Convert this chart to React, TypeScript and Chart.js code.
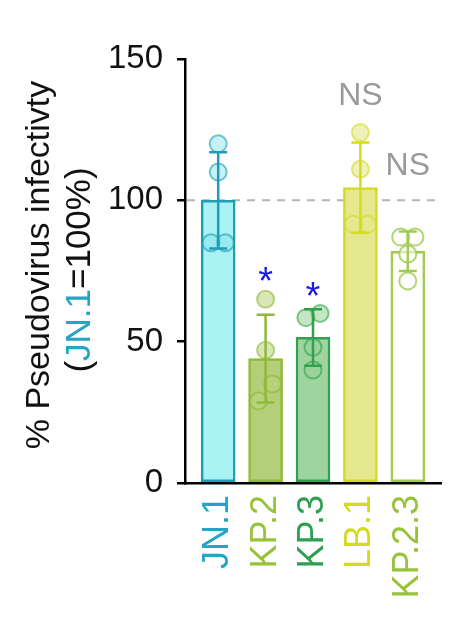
import { useEffect, useRef } from "react";
import { Chart, registerables } from "chart.js";

Chart.register(...registerables);

const variants = ["JN.1", "KP.2", "KP.3", "LB.1", "KP.2.3"];
const means = [100, 44, 51.5, 104.5, 82];
const sds = [17, 15.5, 10, 16, 7];
const replicates = [
  [120, 110, 85, 85],
  [65, 47, 35, 29],
  [60, 58.5, 48, 40],
  [124, 111, 91.5, 91.5],
  [87, 87, 81, 71.5],
];
const yTicks = [0, 50, 100, 150];
const refLevel = 100;
// significance marks: [variant index, y value, text]
const sigMarks: [number, number, string][] = [
  [1, 74.5, "*"],
  [2, 69.5, "*"],
  [3, 137, "NS"],
  [4, 112, "NS"],
];

const barFill = ["#aaf2f4", "#b4cf7a", "#9fd49f", "#e6e890", "#ffffff"];
const barEdge = ["#1f9db4", "#8fb937", "#31a150", "#d3db22", "#a2cc4c"];
const dotFill = [
  "rgba(130,225,235,0.45)",
  "rgba(185,212,125,0.55)",
  "rgba(150,210,150,0.55)",
  "rgba(228,232,140,0.6)",
  "rgba(255,255,255,0.6)",
];
const dotEdge = [
  "rgba(31,157,180,0.6)",
  "rgba(143,185,55,0.6)",
  "rgba(49,161,80,0.6)",
  "rgba(211,219,34,0.6)",
  "rgba(150,200,70,0.75)",
];
const labelColors = ["#27a3c4", "#97c33b", "#2e9f50", "#d2db1f", "#97c33b"];

const FONT = "'Liberation Sans', Arial, sans-serif";

// nudge near-equal replicates sideways so the circles don't sit on each other
function spread(values: number[]) {
  const order = values.map((v, i) => i).sort((a, b) => values[b] - values[a]);
  const dx = values.map(() => 0);
  for (let k = 0; k < order.length - 1; k++) {
    const a = order[k];
    const b = order[k + 1];
    if (dx[a] === 0 && values[a] - values[b] < 7) {
      dx[a] = 0.15;
      dx[b] = -0.15;
      k++;
    }
  }
  return dx;
}

const App = () => {
  const canvasRef = useRef<HTMLCanvasElement>(null);

  useEffect(() => {
    document.body.style.margin = "0";
    if (!canvasRef.current) return;
    const ctx = canvasRef.current.getContext("2d");
    if (!ctx) return;

    const dotSets = replicates.map((vals, i) => {
      const dx = spread(vals);
      return {
        type: "scatter" as const,
        data: vals.map((v, j) => ({ x: i + dx[j], y: v })),
        backgroundColor: dotFill[i],
        borderColor: dotEdge[i],
        borderWidth: 2,
        pointRadius: 8.5,
        order: 1,
      };
    });

    const refLine = {
      id: "refLine",
      beforeDatasetsDraw(chart: any) {
        const { ctx, chartArea, scales } = chart;
        const y = scales.y.getPixelForValue(refLevel);
        ctx.save();
        ctx.strokeStyle = "#b4b4b4";
        ctx.lineWidth = 2;
        ctx.setLineDash([8, 7]);
        ctx.beginPath();
        ctx.moveTo(chartArea.left + 2, y);
        ctx.lineTo(chartArea.right, y);
        ctx.stroke();
        ctx.restore();
      },
    };

    const errorBars = {
      id: "errorBars",
      afterDatasetsDraw(chart: any) {
        const { ctx, scales } = chart;
        ctx.save();
        ctx.lineWidth = 2.5;
        means.forEach((m, i) => {
          const x = scales.x.getPixelForValue(i);
          const top = scales.y.getPixelForValue(m + sds[i]);
          const bot = scales.y.getPixelForValue(m - sds[i]);
          ctx.strokeStyle = barEdge[i];
          ctx.beginPath();
          ctx.moveTo(x, top);
          ctx.lineTo(x, bot);
          ctx.moveTo(x - 9, top);
          ctx.lineTo(x + 9, top);
          ctx.moveTo(x - 9, bot);
          ctx.lineTo(x + 9, bot);
          ctx.stroke();
        });
        ctx.restore();
      },
    };

    const marks = {
      id: "marks",
      afterDraw(chart: any) {
        const { ctx, scales } = chart;
        ctx.save();
        ctx.textAlign = "center";
        sigMarks.forEach(([i, v, text]) => {
          const x = scales.x.getPixelForValue(i);
          const y = scales.y.getPixelForValue(v);
          if (text === "*") {
            ctx.fillStyle = "#1a1ae0";
            ctx.font = `38px ${FONT}`;
            ctx.textBaseline = "alphabetic";
            ctx.fillText(text, x, y + 22);
          } else {
            ctx.fillStyle = "#9a9a9a";
            ctx.font = `32px ${FONT}`;
            ctx.textBaseline = "middle";
            ctx.fillText(text, x, y);
          }
        });

        // y-axis title, two lines, second one partly coloured
        ctx.font = `34px ${FONT}`;
        ctx.textBaseline = "middle";
        ctx.fillStyle = "#111";
        ctx.save();
        ctx.translate(40, 265);
        ctx.rotate(-Math.PI / 2);
        ctx.fillText("% Pseudovirus infectivty", 0, 0);
        ctx.restore();

        ctx.font = `35px ${FONT}`;
        const parts: [string, string][] = [
          ["(", "#111"],
          ["JN.1", labelColors[0]],
          ["=100%)", "#111"],
        ];
        const total = parts.reduce((s, p) => s + ctx.measureText(p[0]).width, 0);
        ctx.save();
        ctx.translate(80, 270);
        ctx.rotate(-Math.PI / 2);
        ctx.textAlign = "left";
        let cx = -total / 2;
        parts.forEach(([t, c]) => {
          ctx.fillStyle = c;
          ctx.fillText(t, cx, 0);
          cx += ctx.measureText(t).width;
        });
        ctx.restore();
        ctx.restore();
      },
    };

    const chart = new Chart(ctx, {
      type: "bar",
      data: {
        datasets: [
          ...dotSets,
          {
            type: "bar" as const,
            data: means.map((m, i) => ({ x: i, y: m })),
            backgroundColor: barFill,
            borderColor: barEdge,
            borderWidth: 2.5,
            borderSkipped: false,
            barThickness: 34,
            order: 2,
          },
        ] as any,
      },
      options: {
        animation: false,
        responsive: true,
        maintainAspectRatio: false,
        layout: { padding: { top: 59, right: 14, left: 0, bottom: 0 } },
        plugins: {
          legend: { display: false },
          tooltip: { enabled: false },
        },
        scales: {
          x: {
            type: "linear",
            min: -0.7,
            max: 4.7,
            offset: false,
            afterBuildTicks: (scale: any) => {
              scale.ticks = variants.map((_, i) => ({ value: i }));
            },
            afterFit: (scale: any) => {
              scale.height = 139;
              scale.paddingLeft = 0;
              scale.paddingRight = 0;
            },
            grid: { display: false, drawTicks: false },
            border: { color: "#000", width: 2.5 },
            ticks: {
              autoSkip: false,
              maxRotation: 90,
              minRotation: 90,
              padding: 12,
              font: { family: FONT, size: 36 },
              color: (c: any) => labelColors[c.index] ?? "#000",
              callback: (v: any) => variants[v] ?? "",
            },
          },
          y: {
            min: 0,
            max: 150,
            afterBuildTicks: (scale: any) => {
              scale.ticks = yTicks.map((v) => ({ value: v }));
            },
            afterFit: (scale: any) => {
              scale.width = 185;
            },
            grid: {
              drawOnChartArea: false,
              drawTicks: true,
              tickLength: 8,
              color: "#000",
              lineWidth: 2.5,
            },
            border: { color: "#000", width: 2.5 },
            ticks: {
              padding: 14,
              color: "#111",
              font: { family: FONT, size: 33 },
            },
          },
        },
      },
      plugins: [refLine, errorBars, marks],
    });

    return () => chart.destroy();
  }, []);

  return (
    <div style={{ position: "absolute", left: 0, top: 0, width: 455, height: 622 }}>
      <canvas ref={canvasRef}></canvas>
    </div>
  );
};

export default App;
